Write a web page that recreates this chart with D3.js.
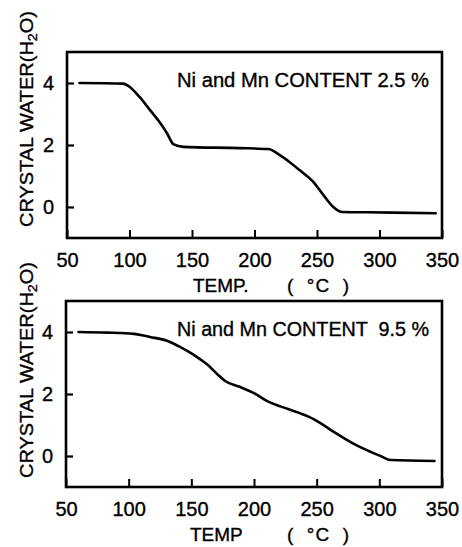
<!DOCTYPE html>
<html>
<head>
<meta charset="utf-8">
<script src="https://cdn.jsdelivr.net/npm/d3@7"></script>
<style>
  html, body { margin: 0; padding: 0; background: #fff; }
  svg { display: block; }
  text { font-family: "Liberation Sans", Arial, sans-serif; fill: #000; stroke: #000; stroke-width: 0.35px; }
</style>
</head>
<body>
<svg id="chart" width="462" height="547"></svg>
<script>
// Dehydration curves: crystal water (mol H2O) versus temperature
const xTicks = [50, 100, 150, 200, 250, 300, 350];
const yTicks = [0, 2, 4];

const tempsA = [60, 95, 100, 108, 116, 124, 130, 135, 143, 188, 211, 220, 228, 236, 247, 255, 263, 270, 290, 345];
const waterA = [4.0, 3.98, 3.88, 3.55, 3.15, 2.74, 2.38, 2.03, 1.94, 1.9, 1.87, 1.68, 1.45, 1.19, 0.81, 0.39, 0.0, -0.16, -0.17, -0.2];

const tempsB = [60, 83, 104, 117, 131, 141, 152, 163, 171, 177, 188, 200, 211, 221, 236, 244, 253, 264, 277, 290, 301, 309, 344];
const waterB = [4.0, 3.98, 3.94, 3.84, 3.71, 3.52, 3.26, 2.94, 2.63, 2.42, 2.24, 2.03, 1.76, 1.6, 1.39, 1.26, 1.06, 0.77, 0.45, 0.19, 0.0, -0.13, -0.16];

const panels = [
  { temps: tempsA, water: waterA, note: "Ni and Mn CONTENT 2.5 %", xTitle: "TEMP.",
    left: 67, right: 442, top: 52, bottom: 238, titleY: 119, xTitleX: 193 },
  { temps: tempsB, water: waterB, note: "Ni and Mn CONTENT  9.5 %", xTitle: "TEMP",
    left: 66, right: 442, top: 301, bottom: 487, titleY: 370, xTitleX: 190 }
];

const svg = d3.select("#chart");

panels.forEach(p => {
  const x = d3.scaleLinear().domain([50, 350]).range([p.left, p.right]);
  const y = d3.scaleLinear().domain([-1, 5]).range([p.bottom, p.top]);
  const g = svg.append("g");

  // bottom axis, ticks pointing into the plot
  const xa = g.append("g")
    .attr("transform", `translate(0,${p.bottom})`)
    .call(d3.axisBottom(x).tickValues(xTicks).tickFormat(d3.format("d"))
      .tickSizeInner(-8).tickSizeOuter(0).tickPadding(15));
  xa.select(".domain").remove();
  xa.selectAll(".tick line").attr("stroke", "#000").attr("stroke-width", 2);
  xa.selectAll(".tick text").attr("font-size", 20).attr("font-family", "Liberation Sans, Arial, sans-serif");

  // left axis
  const ya = g.append("g")
    .attr("transform", `translate(${p.left},0)`)
    .call(d3.axisLeft(y).tickValues(yTicks).tickFormat(d3.format("d"))
      .tickSizeInner(-7).tickSizeOuter(0).tickPadding(13));
  ya.select(".domain").remove();
  ya.selectAll(".tick line").attr("stroke", "#000").attr("stroke-width", 2.2);
  ya.selectAll(".tick text").attr("font-size", 20).attr("font-family", "Liberation Sans, Arial, sans-serif");

  // frame
  g.append("rect")
    .attr("x", p.left).attr("y", p.top)
    .attr("width", p.right - p.left).attr("height", p.bottom - p.top)
    .attr("fill", "none").attr("stroke", "#000").attr("stroke-width", 2.6);

  // curve
  const pts = p.temps.map((t, i) => [t, p.water[i]]);
  g.append("path")
    .datum(pts)
    .attr("fill", "none")
    .attr("stroke", "#000")
    .attr("stroke-width", 2.6)
    .attr("stroke-linejoin", "round")
    .attr("stroke-linecap", "round")
    .attr("d", d3.line().x(d => x(d[0])).y(d => y(d[1])).curve(d3.curveMonotoneX));

  // content annotation
  g.append("text")
    .attr("x", 177)
    .attr("y", p.top + 35)
    .attr("font-size", 20)
    .attr("textLength", 252)
    .attr("lengthAdjust", "spacingAndGlyphs")
    .style("white-space", "pre")
    .text(p.note);

  // axis titles
  g.append("text")
    .attr("x", p.xTitleX)
    .attr("y", p.bottom + 54)
    .attr("font-size", 19)
    .text(p.xTitle);
  g.append("text")
    .attr("x", 287)
    .attr("y", p.bottom + 54)
    .attr("font-size", 19)
    .attr("textLength", 62)
    .style("white-space", "pre")
    .text("(  °C  )");

  const yt = g.append("text")
    .attr("transform", `translate(33,${p.titleY}) rotate(-90)`)
    .attr("text-anchor", "middle")
    .attr("font-size", 18)
    .attr("textLength", 216)
    .attr("lengthAdjust", "spacingAndGlyphs");
  yt.append("tspan").text("CRYSTAL WATER(H");
  yt.append("tspan").attr("font-size", 13).attr("dy", 4).text("2");
  yt.append("tspan").attr("dy", -4).text("O)");
});
</script>
</body>
</html>
